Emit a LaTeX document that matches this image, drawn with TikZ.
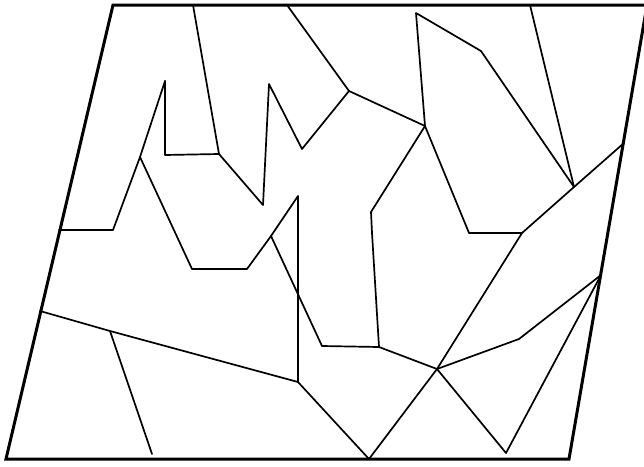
\documentclass[tikz,border=0pt]{standalone}
\begin{document}
\begin{tikzpicture}[x=1pt,y=-1pt,
  inner/.style={line width=1.7pt,line join=round,line cap=round},
  outer/.style={line width=3pt,line join=miter}]
\useasboundingbox (0,0) rectangle (644,466);
\clip (0,0) rectangle (644,466);
% outer frame corners
\coordinate (TL) at (113,5);
\coordinate (TR) at (647,5);
\coordinate (BR) at (569,459);
\coordinate (BL) at (6,459);
% interior points
\coordinate (a1) at (193,5);
\coordinate (a2) at (219,154);
\coordinate (a3) at (165,81);
\coordinate (a4) at (165,155);
\coordinate (b1) at (263,205);
\coordinate (b2) at (269,84);
\coordinate (b3) at (302,149);
\coordinate (c1) at (349,91);
\coordinate (c0) at (287,5);
\coordinate (d1) at (140,157);
\coordinate (d2) at (113,230);
\coordinate (d3) at (59,230);
\coordinate (e1) at (192,269);
\coordinate (e2) at (247,269);
\coordinate (e3) at (271,236);
\coordinate (e4) at (298,196);
\coordinate (e5) at (298,382);
\coordinate (f1) at (322,346);
\coordinate (f2) at (379,347);
\coordinate (X) at (437,369);
\coordinate (g0) at (425,126);
\coordinate (g1) at (416,13);
\coordinate (g2) at (481,51);
\coordinate (g3) at (574,187);
\coordinate (g4) at (624,143);
\coordinate (h0) at (530,5);
\coordinate (h1) at (522,233);
\coordinate (h2) at (469,233);
\coordinate (i1) at (371,212);
\coordinate (i2) at (372,233);
\coordinate (R) at (601,275);
\coordinate (j1) at (519,339);
\coordinate (j2) at (506,453);
\coordinate (k1) at (369,459);
\coordinate (l1) at (40,311);
\coordinate (l2) at (110,331);
\coordinate (l3) at (152,454);
% interior lines
\draw[inner] (a1) -- (a2) -- (b1) -- (b2) -- (b3) -- (c1);
\draw[inner] (a3) -- (a4) -- (a2);
\draw[inner] (a3) -- (d1) -- (d2) -- (d3);
\draw[inner] (d1) -- (e1) -- (e2) -- (e3) -- (e4) -- (e5);
\draw[inner] (e3) -- (f1) -- (f2) -- (X);
\draw[inner] (c0) -- (c1) -- (g0);
\draw[inner] (g0) -- (g1) -- (g2) -- (g3) -- (g4);
\draw[inner] (h0) -- (g3) -- (h1) -- (X);
\draw[inner] (g0) -- (h2) -- (h1);
\draw[inner] (g0) -- (i1) -- (i2) -- (f2);
\draw[inner] (R) -- (j1) -- (X);
\draw[inner] (R) -- (j2) -- (X);
\draw[inner] (X) -- (k1);
\draw[inner] (e5) -- (k1);
\draw[inner] (l1) -- (l2) -- (e5);
\draw[inner] (l2) -- (l3);
% outer frame
\draw[outer] (TL) -- (TR) -- (BR) -- (BL) -- cycle;
\end{tikzpicture}
\end{document}
